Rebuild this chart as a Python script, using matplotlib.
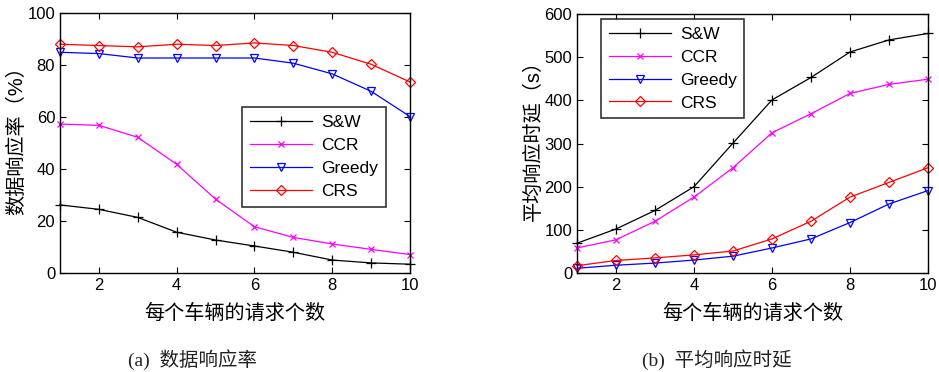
import matplotlib
matplotlib.use("Agg")
import matplotlib.pyplot as plt

plt.rcParams["font.family"] = ["Liberation Sans", "Noto Sans CJK SC", "DejaVu Sans"]
plt.rcParams["axes.unicode_minus"] = False

x = [1, 2, 3, 4, 5, 6, 7, 8, 9, 10]
names = ["S&W", "CCR", "Greedy", "CRS"]

# (a) data response rate (%)
rate_sw = [26.3, 24.6, 21.5, 15.8, 12.8, 10.5, 8.1, 5.1, 4.0, 3.5]
rate_ccr = [57.4, 56.9, 52.3, 41.9, 28.5, 17.9, 13.8, 11.3, 9.2, 7.2]
rate_greedy = [85.0, 84.5, 82.8, 82.8, 82.8, 82.8, 80.8, 76.7, 70.0, 60.3]
rate_crs = [88.1, 87.6, 87.1, 88.1, 87.6, 88.6, 87.6, 85.0, 80.4, 73.6]

# (b) average response delay (s)
delay_sw = [69, 102, 145, 200, 301, 401, 453, 512, 540, 555]
delay_ccr = [58, 77, 120, 176, 244, 325, 369, 416, 437, 449]
delay_greedy = [11, 18, 23, 30, 39, 58, 79, 117, 160, 191]
delay_crs = [17, 29, 35, 42, 51, 79, 120, 176, 210, 244]

colors = ["black", "#ff00ff", "blue", "red"]
markers = ["+", "x", "v", "D"]
msizes = [7, 5, 6, 5]

fig = plt.figure(figsize=(9.39, 3.72), dpi=100)
ax1 = fig.add_axes([0.0639, 0.2653, 0.3727, 0.699])
ax2 = fig.add_axes([0.6145, 0.2661, 0.3738, 0.6962])


def draw(ax, series, ylim, yticks, ylabel, leg_loc, leg_anchor):
    for s, n, c, m, ms in zip(series, names, colors, markers, msizes):
        ax.plot(x, s, color=c, marker=m, ms=ms, mfc="none", mec=c,
                mew=0.9, lw=0.9, label=n, clip_on=False)
    ax.set_xlim(1, 10)
    ax.set_ylim(*ylim)
    ax.set_xticks([2, 4, 6, 8, 10])
    ax.set_yticks(yticks)
    ax.tick_params(direction="in", top=True, right=True, labelsize=12,
                   length=4, width=0.8)
    for sp in ax.spines.values():
        sp.set_linewidth(1.0)
    ax.set_xlabel("每个车辆的请求个数", fontsize=14.5, labelpad=8)
    ax.set_ylabel(ylabel, fontsize=14.5, labelpad=1)
    ax.yaxis.label.set_y(0.53)
    leg = ax.legend(loc=leg_loc, bbox_to_anchor=leg_anchor, fontsize=12.5,
                    frameon=True, fancybox=False, edgecolor="black",
                    handlelength=3.6, borderpad=0.45, labelspacing=0.45,
                    handletextpad=0.5, borderaxespad=0)
    leg.get_frame().set_linewidth(1.2)


draw(ax1, [rate_sw, rate_ccr, rate_greedy, rate_crs], (0, 100),
     [0, 20, 40, 60, 80, 100], "数据响应率（%）",
     "upper right", (0.931, 0.64))
draw(ax2, [delay_sw, delay_ccr, delay_greedy, delay_crs], (0, 600),
     [0, 100, 200, 300, 400, 500, 600], "平均响应时延（s）",
     "upper left", (0.0675, 0.982))

cap_font = ["Liberation Serif", "Noto Sans CJK SC"]
fig.text(193 / 939, 1 - 360 / 372, "(a)  数据响应率", ha="center", va="center",
         fontsize=14, family=cap_font, color="#222222")
fig.text(717 / 939, 1 - 360 / 372, "(b)  平均响应时延", ha="center", va="center",
         fontsize=14, family=cap_font, color="#222222")

fig.savefig("out.png", dpi=100)
